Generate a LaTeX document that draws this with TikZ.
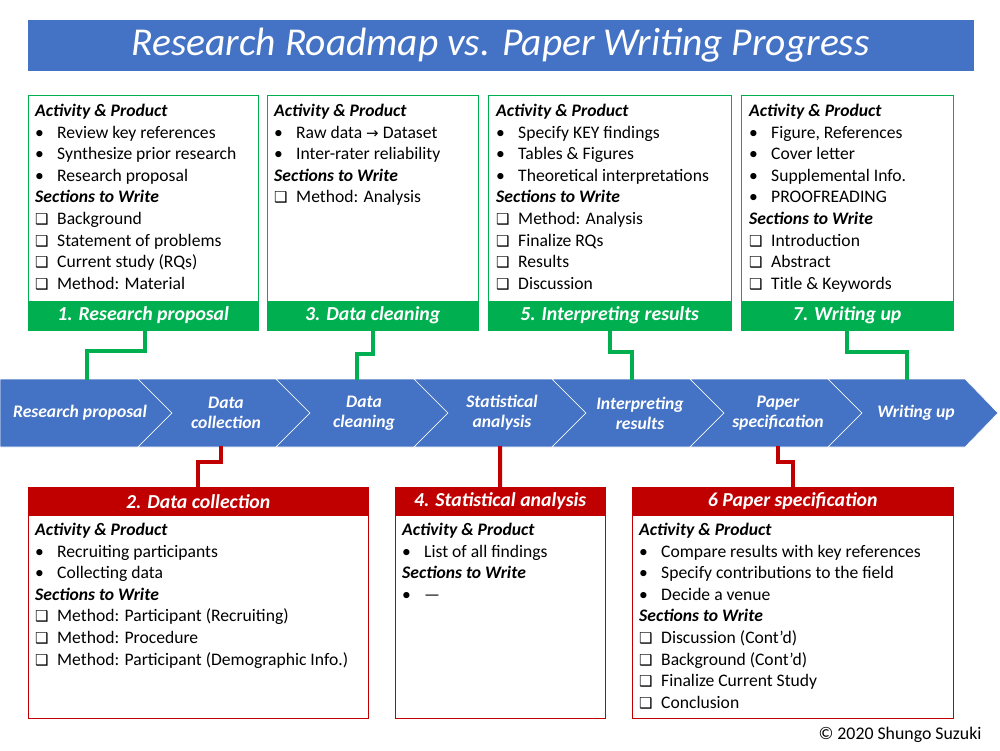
\documentclass[tikz,border=0pt]{standalone}
\usepackage{fontspec}
\setmainfont{Carlito}
\newfontfamily\dv{DejaVu Sans}
\definecolor{myblue}{HTML}{4472C4}
\definecolor{mygreen}{HTML}{00B050}
\definecolor{myred}{HTML}{C00000}
\newcommand{\bl}{\makebox[22pt][l]{•}}
\newcommand{\cb}{\makebox[22pt][l]{\dv\fontsize{15}{15}\selectfont ❑}}
\newcommand{\hd}[1]{\textbf{\textit{#1}}}
\begin{document}
\begin{tikzpicture}[x=1pt,y=-1pt,
  gbox/.style={draw=mygreen,line width=1pt},
  rbox/.style={draw=myred,line width=1pt},
  ghead/.style={fill=mygreen,draw=mygreen,text=white,font=\fontsize{19.8}{19.8}\selectfont\bfseries\itshape},
  rhead/.style={fill=myred,draw=myred,text=white,font=\fontsize{19.8}{19.8}\selectfont\bfseries\itshape},
  body/.style={anchor=north west,align=left,inner sep=0pt,font=\fontsize{17.6}{21.6}\selectfont},
  chev/.style={fill=myblue,draw=white,line width=0.6pt},
  clab/.style={text=white,align=center,font=\fontsize{17.6}{20}\selectfont\bfseries\itshape},
  gline/.style={draw=mygreen,line width=4pt},
  rline/.style={draw=myred,line width=4pt}]
\useasboundingbox (0,0) rectangle (1000,750);
% title
\node[fill=myblue,draw=myblue,minimum width=945pt,minimum height=50pt,anchor=north west,text=white,font=\fontsize{39.5}{39.5}\selectfont\itshape] (title) at (28,20) {Research Roadmap vs. Paper Writing Progress};
% chevrons
\fill[chev] (0,379)--(138,379)--(172,413)--(138,447)--(0,447)--cycle;
\foreach \i in {1,...,5}{
  \pgfmathsetmacro{\xo}{138*\i}
  \fill[chev] (\xo,379)--(\xo+138,379)--(\xo+172,413)--(\xo+138,447)--(\xo,447)--(\xo+34,413)--cycle;}
\fill[chev] (828,379)--(965,379)--(998,413)--(965,447)--(828,447)--(862,413)--cycle;
\node[clab] (c1) at (80,413) {Research proposal};
\node[clab] (c2) at (226,413) {Data\\collection};
\node[clab] (c3) at (364,413) {Data\\cleaning};
\node[clab] (c4) at (502,413) {Statistical\\analysis};
\node[clab] (c5) at (640,413) {Interpreting\\results};
\node[clab] (c6) at (778,413) {Paper\\specification};
\node[clab] (c7) at (916,413) {Writing up};
\coordinate (t1) at (87,380); \coordinate (t3) at (357,380);
\coordinate (t5) at (632,380); \coordinate (t7) at (907,380);
\coordinate (b2) at (221,446); \coordinate (b4) at (500,446); \coordinate (b6) at (778,446);
% top boxes
\draw[gbox] (28,95) rectangle (258,330);
\draw[gbox] (267,95) rectangle (478,330);
\draw[gbox] (488,95) rectangle (731,330);
\draw[gbox] (741,95) rectangle (953,330);
\node[ghead,minimum width=230pt,minimum height=29pt,anchor=south west] (h1) at (28,330) {1. Research proposal};
\node[ghead,minimum width=211pt,minimum height=29pt,anchor=south west] (h3) at (267,330) {3. Data cleaning};
\node[ghead,minimum width=243pt,minimum height=29pt,anchor=south west] (h5) at (488,330) {5. Interpreting results};
\node[ghead,minimum width=212pt,minimum height=29pt,anchor=south west] (h7) at (741,330) {7. Writing up};
\node[body] (x1) at (35,104) {\hd{Activity \& Product}\\\bl Review key references\\\bl Synthesize prior research\\\bl Research proposal\\\hd{Sections to Write}\\\cb Background\\\cb Statement of problems\\\cb Current study (RQs)\\\cb Method: Material};
\node[body] (x3) at (274,104) {\hd{Activity \& Product}\\\bl Raw data {\dv\fontsize{15}{15}\selectfont→} Dataset\\\bl Inter-rater reliability\\\hd{Sections to Write}\\\cb Method: Analysis};
\node[body] (x5) at (496,104) {\hd{Activity \& Product}\\\bl Specify KEY findings\\\bl Tables \& Figures\\\bl Theoretical interpretations\\\hd{Sections to Write}\\\cb Method: Analysis\\\cb Finalize RQs\\\cb Results\\\cb Discussion};
\node[body] (x7) at (749,104) {\hd{Activity \& Product}\\\bl Figure, References\\\bl Cover letter\\\bl Supplemental Info.\\\bl PROOFREADING\\\hd{Sections to Write}\\\cb Introduction\\\cb Abstract\\\cb Title \& Keywords};
% bottom boxes
\draw[rbox] (28,487) rectangle (368,718);
\draw[rbox] (395,487) rectangle (605,718);
\draw[rbox] (632,487) rectangle (953,718);
\node[rhead,minimum width=340pt,minimum height=28pt,anchor=north west] (h2) at (28,487) {2. Data collection};
\node[rhead,minimum width=210pt,minimum height=28pt,anchor=north west] (h4) at (395,487) {4. Statistical analysis};
\node[rhead,minimum width=321pt,minimum height=28pt,anchor=north west] (h6) at (632,487) {6 Paper specification};
\node[body] (x2) at (35,523) {\hd{Activity \& Product}\\\bl Recruiting participants\\\bl Collecting data\\\hd{Sections to Write}\\\cb Method: Participant (Recruiting)\\\cb Method: Procedure\\\cb Method: Participant (Demographic Info.)};
\node[body] (x4) at (402,523) {\hd{Activity \& Product}\\\bl List of all findings\\\hd{Sections to Write}\\\bl ---};
\node[body] (x6) at (639,523) {\hd{Activity \& Product}\\\bl Compare results with key references\\\bl Specify contributions to the field\\\bl Decide a venue\\\hd{Sections to Write}\\\cb Discussion (Cont'd)\\\cb Background (Cont'd)\\\cb Finalize Current Study\\\cb Conclusion};
% connectors
\draw[gline] (145,331) -- (145,351) -| (t1);
\draw[gline] (373,331) -- (373,354) -| (t3);
\draw[gline] (610,331) -- (610,352) -| (t5);
\draw[gline] (847,331) -- (847,352) -| (t7);
\draw[rline] (b2) -- (221,462) -| (h2.north -| 198,0);
\draw[rline] (b4) -- (h4.north);
\draw[rline] (b6) -- (778,462) -| (h6.north -| 793,0);
\node[anchor=south east,font=\fontsize{17.8}{17.8}\selectfont] (copy) at (985,746) {© 2020 Shungo Suzuki};
\end{tikzpicture}
\end{document}
